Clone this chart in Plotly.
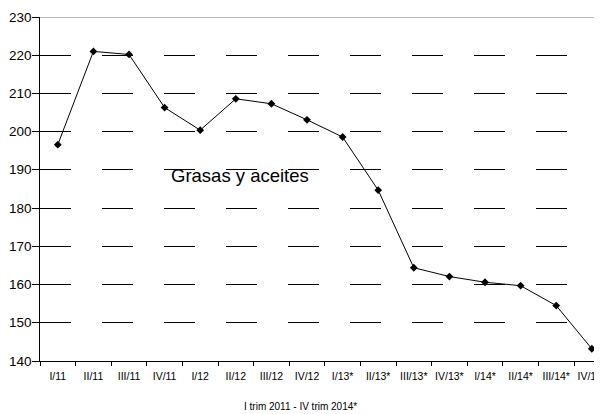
import plotly.graph_objects as go

categories = ["I/11", "II/11", "III/11", "IV/11", "I/12", "II/12", "III/12", "IV/12",
              "I/13*", "II/13*", "III/13*", "IV/13*", "I/14*", "II/14*", "III/14*", "IV/14*"]
values = [196.6, 221.0, 220.2, 206.3, 200.4, 208.6, 207.3, 203.1,
          198.6, 184.7, 164.4, 162.1, 160.6, 159.7, 154.5, 143.2]
y_ticks = [140, 150, 160, 170, 180, 190, 200, 210, 220, 230]
series_label = "Grasas y aceites"
x_title = "I trim 2011 - IV trim 2014*"

# The page body has an 8px default margin, so figure coords = screen coords - 8
W, H = 602, 414
ml, mt, mb = 32, 9, 61
plot_w = W - ml
plot_h = H - mt - mb
cat_px = 35.6
x_hi = -0.5 + plot_w / cat_px

font = "Liberation Sans, Arial, sans-serif"

fig = go.Figure()
fig.add_trace(go.Scatter(
    x=categories, y=values, mode="lines+markers",
    line=dict(color="black", width=1),
    marker=dict(symbol="diamond", size=6, color="black"),
    showlegend=False, cliponaxis=False,
))

fig.add_shape(type="line", xref="paper", yref="y", x0=0, x1=1, y0=230, y1=230,
              line=dict(color="#707070", width=1), layer="below")

# y tick labels placed close to the ticks
for v in y_ticks:
    fig.add_annotation(x=0, y=v, xref="paper", yref="y", text=str(v),
                       showarrow=False, xanchor="right", yanchor="middle", xshift=-6,
                       font=dict(family=font, size=13.5, color="black"))

fig.add_annotation(x=128.5 / plot_w, y=188.6, xref="paper", yref="y", text=series_label,
                   showarrow=False, xanchor="left", yanchor="middle",
                   font=dict(family=font, size=18.5, color="black"))

fig.add_annotation(x=(292 - ml) / plot_w, y=-(398 - (H - mb)) / plot_h, xref="paper", yref="paper",
                   text=x_title, showarrow=False, xanchor="center", yanchor="middle",
                   font=dict(family=font, size=10, color="black"))

fig.update_layout(
    width=W, height=H,
    margin=dict(l=ml, r=0, t=mt, b=mb, pad=0, autoexpand=False),
    paper_bgcolor="white", plot_bgcolor="white",
    font=dict(family=font, size=11, color="black"),
    xaxis=dict(
        type="category", range=[-0.5, x_hi], tickson="boundaries",
        ticks="outside", ticklen=4, tickcolor="black", tickwidth=1,
        showline=True, linecolor="black", linewidth=1, automargin=False,
        showgrid=False, tickfont=dict(size=10.5), tickangle=0,
        ticklabelstandoff=5,
    ),
    yaxis=dict(
        range=[140, 230], tickvals=y_ticks, automargin=False, showticklabels=False,
        ticks="outside", ticklen=7, tickcolor="black", tickwidth=1,
        showline=True, linecolor="black", linewidth=1,
        showgrid=True, gridcolor="black", gridwidth=1, griddash="31px,31px",
        zeroline=False,
    ),
)

fig.write_html("out.html")
